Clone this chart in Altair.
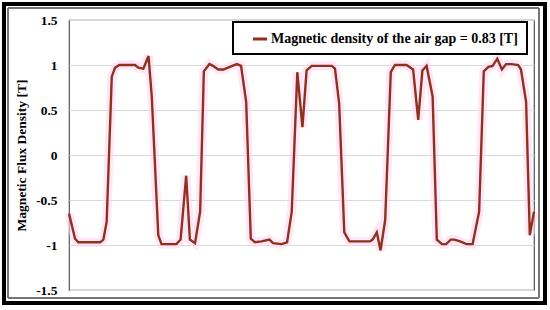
import altair as alt
import pandas as pd

# sample position (arbitrary units across the window) and flux density [T]
t = [0, 1.3, 2.0, 6.7, 7.4, 8.1, 9.2, 9.9, 10.8, 14.2, 14.9, 16.0, 17.1, 17.8,
     19.2, 19.9, 23.1, 24.0, 25.2, 26.0, 27.1, 28.2, 29.0, 30.2, 31.0, 32.1,
     33.2, 34.6, 36.1, 37.0, 38.1, 39.1, 40.0, 41.4, 43.1, 43.9, 45.7, 46.9,
     47.9, 49.1, 50.2, 51.1, 52.2, 56.5, 57.2, 58.1, 59.2, 60.3, 64.7, 65.3,
     66.2, 67.0, 68.0, 69.2, 70.1, 72.6, 74.0, 75.1, 76.0, 76.9, 78.2, 79.1,
     80.2, 81.1, 82.1, 82.9, 84.1, 85.5, 86.8, 88.2, 89.2, 90.2, 91.1, 92.1,
     93.1, 94.0, 95.2, 96.6, 97.2, 98.3, 99.1, 100]
b = [-0.65, -0.93, -0.97, -0.97, -0.94, -0.74, 0.87, 0.97, 1.0, 1.0, 0.97, 0.96,
     1.10, 0.65, -0.89, -0.99, -0.99, -0.94, -0.23, -0.94, -0.98, -0.63, 0.93,
     1.01, 0.99, 0.95, 0.95, 0.98, 1.01, 0.99, 0.59, -0.93, -0.97, -0.96, -0.94,
     -0.98, -0.99, -0.97, -0.63, 0.92, 0.31, 0.94, 0.99, 0.99, 0.96, 0.57, -0.86,
     -0.96, -0.96, -0.94, -0.86, -1.06, -0.72, 0.92, 1.0, 1.0, 0.95, 0.39, 0.94,
     0.99, 0.65, -0.94, -0.99, -0.99, -0.94, -0.94, -0.96, -0.99, -0.99, -0.63,
     0.93, 0.98, 0.99, 1.07, 0.95, 1.01, 1.01, 1.0, 0.95, 0.59, -0.89, -0.63]
series_name = "Magnetic density of the air gap = 0.83 [T]"
y_ticks = [-1.5, -1, -0.5, 0, 0.5, 1, 1.5]

df = pd.DataFrame({"t": t, "B": b, "series": series_name})

FONT = "Liberation Serif"
W, H = 465, 270

x_enc = alt.X("t:Q", scale=alt.Scale(domain=[0, 100], nice=False), axis=None)
y_enc = alt.Y("B:Q", scale=alt.Scale(domain=[-1.5, 1.5], nice=False),
              axis=alt.Axis(values=y_ticks, title="Magnetic Flux Density [T]",
                            labelExpr="datum.value + ''", ticks=False,
                            domain=False, grid=True, gridColor="#d9d9d9",
                            labelFont=FONT, labelFontSize=13.5,
                            labelFontWeight="bold", labelColor="#000",
                            labelPadding=12, titleFont=FONT, titleFontSize=13.5,
                            titleFontWeight="bold", titleColor="#000",
                            titlePadding=7))

halo = alt.Chart(df).mark_line(color="#ffd6f4", strokeWidth=9, opacity=0.6).encode(
    x=x_enc, y=y_enc)

line = alt.Chart(df).mark_line(strokeWidth=2.4).encode(
    x=x_enc, y=y_enc,
    color=alt.Color("series:N",
                    scale=alt.Scale(domain=[series_name], range=["#8f321c"]),
                    legend=alt.Legend(title=None, orient="none", legendX=164,
                                      legendY=2, strokeColor="#000",
                                      padding=8, symbolType="stroke",
                                      symbolSize=200, symbolStrokeWidth=3,
                                      labelFont=FONT, labelFontSize=14,
                                      labelFontWeight="bold", labelColor="#000",
                                      symbolOffset=10, labelOffset=2,
                                      labelLimit=400)))

frame_outer = alt.Chart(df).mark_rect(fill=None, stroke="#000", strokeWidth=2.5).encode(
    x=alt.value(-65), x2=alt.value(476), y=alt.value(-16), y2=alt.value(283))
frame_inner = alt.Chart(df).mark_rect(fill=None, stroke="#777", strokeWidth=1).encode(
    x=alt.value(-61), x2=alt.value(470), y=alt.value(-12), y2=alt.value(278))

chart = alt.layer(frame_outer, frame_inner, halo, line).properties(
    width=W, height=H,
    autosize=alt.AutoSizeParams(type="none"),
    padding={"left": 69, "top": 20, "right": 16, "bottom": 20},
    background="white",
).configure_view(stroke="#555", strokeWidth=1.2).configure_legend(strokeWidth=2)

chart.save("out.html", embed_options={"renderer": "svg", "actions": False})
